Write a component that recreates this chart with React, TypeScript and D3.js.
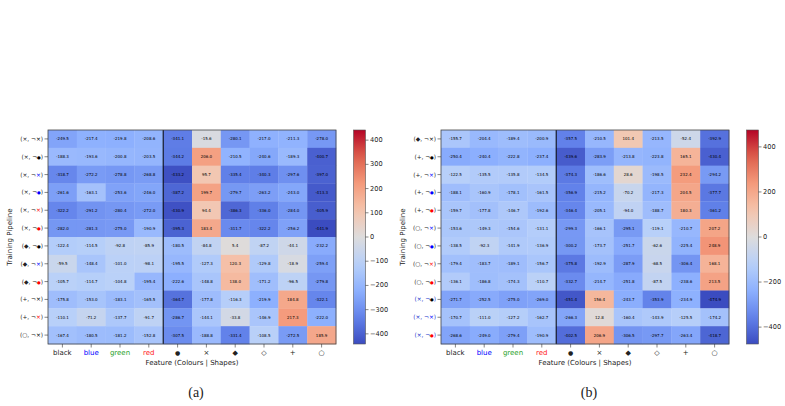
import React from "react";
import * as d3 from "d3";

// column labels (colours | shapes)
const colourCols = ["black", "blue", "green", "red"];
const colourFill = ["#222222", "#0000ff", "#2a9f2a", "#ff2020"];
const shapeCols = ["●", "×", "◆", "◇", "+", "○"];

// row labels: [shape, excluded symbol, colour of excluded symbol, colour of first part]
const rowsA = [
  ["×", "×", "black", "#222"],
  ["×", "●", "black", "#222"],
  ["×", "×", "blue", "#222"],
  ["×", "●", "blue", "#222"],
  ["×", "×", "red", "#222"],
  ["×", "●", "red", "#222"],
  ["◆", "●", "black", "#222"],
  ["◆", "×", "blue", "#222"],
  ["◆", "●", "red", "#222"],
  ["+", "×", "black", "#222"],
  ["+", "×", "red", "#222"],
  ["○", "×", "black", "#222"],
];

const rowsB = [
  ["◆", "×", "black", "#222"],
  ["+", "●", "black", "#222"],
  ["+", "×", "blue", "#222"],
  ["+", "●", "blue", "#222"],
  ["+", "●", "red", "#222"],
  ["○", "×", "blue", "#222"],
  ["○", "●", "blue", "#222"],
  ["○", "×", "red", "#222"],
  ["○", "●", "red", "#222"],
  ["×", "●", "black", "#2233cc"],
  ["×", "×", "blue", "#2233cc"],
  ["×", "●", "red", "#2233cc"],
];

const valuesA = [
  [-249.5, -217.4, -219.8, -208.6, -341.1, -15.6, -280.1, -217.0, -211.3, -278.0],
  [-188.3, -193.6, -200.8, -203.5, -344.2, 206.0, -210.5, -240.6, -189.3, -400.7],
  [-318.7, -272.2, -278.8, -268.8, -433.2, 95.7, -335.4, -340.3, -297.6, -397.0],
  [-261.6, -163.1, -253.6, -246.0, -387.2, 199.7, -279.7, -263.2, -243.0, -413.3],
  [-322.2, -291.2, -280.4, -272.0, -430.9, 94.4, -386.3, -336.0, -284.0, -405.9],
  [-282.0, -281.3, -275.0, -190.9, -395.3, 183.4, -311.7, -322.2, -256.2, -441.9],
  [-122.4, -114.5, -92.8, -85.9, -180.5, -84.8, 5.4, -87.2, -44.1, -232.2],
  [-59.5, -148.4, -101.0, -98.1, -195.5, -127.3, 120.3, -129.8, -18.9, -259.4],
  [-105.7, -114.7, -104.8, -195.4, -222.6, -148.8, 138.0, -171.2, -96.5, -279.8],
  [-175.8, -153.0, -183.1, -165.5, -364.7, -177.8, -116.3, -219.9, 184.8, -322.1],
  [-110.1, -71.2, -137.7, -91.7, -286.7, -144.1, -33.8, -146.9, 217.3, -222.0],
  [-167.4, -180.5, -181.2, -152.8, -307.5, -188.8, -331.4, -108.5, -272.5, 185.9],
];

const valuesB = [
  [-155.7, -204.4, -189.4, -200.9, -357.5, -210.5, 101.4, -213.5, -52.4, -392.9],
  [-250.4, -240.4, -222.8, -237.4, -439.6, -283.9, -213.8, -223.8, 165.1, -430.4],
  [-122.5, -135.5, -135.8, -134.5, -374.3, -186.6, 28.6, -198.5, 232.4, -294.2],
  [-188.1, -160.9, -178.1, -161.5, -356.9, -215.2, -70.2, -217.3, 204.5, -377.7],
  [-159.7, -177.8, -146.7, -192.6, -346.4, -205.1, -94.0, -188.7, 180.3, -361.2],
  [-153.6, -149.3, -154.6, -131.1, -299.3, -166.1, -295.1, -119.1, -210.7, 207.2],
  [-138.5, -92.3, -141.9, -136.9, -300.2, -173.7, -251.7, -62.6, -225.4, 248.9],
  [-179.4, -183.7, -189.1, -156.7, -375.8, -192.9, -287.9, -68.5, -306.4, 168.1],
  [-136.1, -186.8, -174.3, -110.7, -332.7, -214.7, -251.8, -87.5, -238.6, 213.5],
  [-271.7, -252.5, -275.0, -269.0, -451.4, 156.4, -243.7, -353.9, -234.9, -474.9],
  [-170.7, -111.0, -127.2, -162.7, -266.3, 12.8, -160.4, -143.9, -125.5, -174.2],
  [-268.6, -249.0, -279.4, -190.9, -402.5, 206.9, -306.5, -297.7, -263.4, -418.7],
];

const ticksA = [-400, -300, -200, -100, 0, 100, 200, 300, 400];
const ticksB = [-400, -200, 0, 200, 400];

const coolwarm = d3.piecewise(d3.interpolateRgb, [
  "#3b4cc0", "#6282ea", "#8db0fe", "#b8d0f9", "#dddcdc",
  "#f5c4ac", "#f49a7b", "#de604d", "#b40426",
]);

const colourOf = (c: string) =>
  c === "blue" ? "#0000ff" : c === "red" ? "#ff0000" : "#000000";

const font = "DejaVu Sans, sans-serif";

function Panel({ id, ox, values, rows, ticks, caption }: any) {
  const left = 48 + ox;
  const right = 336 + ox;
  const top = 130;
  const bottom = 344;
  const cols = colourCols.concat(shapeCols);
  const x = d3.scaleBand().domain(d3.range(cols.length) as any).range([left, right]);
  const y = d3.scaleBand().domain(d3.range(rows.length) as any).range([top, bottom]);
  const vmax = d3.max(values.flat(), (v: number) => Math.abs(v)) as number;
  const color = d3.scaleSequential(coolwarm).domain([-vmax, vmax]);
  const cbX = 353.5 + ox;
  const cbW = 12;
  const cy = d3.scaleLinear().domain([-vmax, vmax]).range([bottom, top]);
  const bw = x.bandwidth();
  const bh = y.bandwidth();

  return (
    <g>
      <defs>
        <linearGradient id={"grad" + id} x1="0" y1="1" x2="0" y2="0">
          {d3.range(0, 1.0001, 0.05).map((t) => (
            <stop key={t} offset={t} stopColor={coolwarm(t)} />
          ))}
        </linearGradient>
      </defs>
      {values.map((row: number[], i: number) =>
        row.map((v, j) => (
          <g key={i + "-" + j}>
            <rect x={x(j as any)} y={y(i as any)} width={bw + 0.3} height={bh + 0.3} fill={color(v)} />
            <text
              x={(x(j as any) as number) + bw / 2}
              y={(y(i as any) as number) + bh / 2}
              textAnchor="middle"
              dominantBaseline="central"
              fontSize={4}
              fontFamily={font}
              fill="#000"
            >
              {v.toFixed(1)}
            </text>
          </g>
        ))
      )}
      <line x1={x(4 as any)} x2={x(4 as any)} y1={top} y2={bottom} stroke="#000" strokeWidth={1} />
      <rect x={left} y={top} width={right - left} height={bottom - top} fill="none" stroke="#444" strokeWidth={0.8} />
      {rows.map((r: string[], i: number) => {
        const yy = (y(i as any) as number) + bh / 2;
        return (
          <g key={"r" + i}>
            <line x1={left - 3.5} x2={left} y1={yy} y2={yy} stroke="#333" strokeWidth={0.6} />
            <text x={left - 5} y={yy} textAnchor="end" dominantBaseline="central" fontSize={5.8} fontFamily={font}>
              <tspan fill={r[3]}>({r[0]}, ¬</tspan>
              <tspan fill={colourOf(r[2])} fontSize={r[1] === "●" ? 4.2 : 5.8}>{r[1]}</tspan>
              <tspan fill={r[3]}>)</tspan>
            </text>
          </g>
        );
      })}
      {cols.map((c, j) => {
        const xx = (x(j as any) as number) + bw / 2;
        return (
          <g key={"c" + j}>
            <line x1={xx} x2={xx} y1={bottom} y2={bottom + 3.5} stroke="#333" strokeWidth={0.6} />
            <text x={xx} y={bottom + 10.5} textAnchor="middle" fontSize={c === "●" ? 6 : 7} fontFamily={font}
              fill={j < 4 ? colourFill[j] : "#222"}>
              {c}
            </text>
          </g>
        );
      })}
      <text x={(left + right) / 2} y={bottom + 20.5} textAnchor="middle" fontSize={7} fontFamily={font} fill="#222">
        Feature (Colours | Shapes)
      </text>
      <text
        transform={`translate(${10 + ox},${(top + bottom) / 2}) rotate(-90)`}
        textAnchor="middle"
        dominantBaseline="central"
        fontSize={7}
        fontFamily={font}
        fill="#222"
      >
        Training Pipeline
      </text>
      <rect x={cbX} y={top} width={cbW} height={bottom - top} fill={`url(#grad${id})`} stroke="#555" strokeWidth={0.6} />
      {ticks.map((t: number) => (
        <g key={"t" + t}>
          <line x1={cbX + cbW} x2={cbX + cbW + 3} y1={cy(t)} y2={cy(t)} stroke="#333" strokeWidth={0.6} />
          <text x={cbX + cbW + 4.5} y={cy(t)} dominantBaseline="central" fontSize={6.6} fontFamily={font} fill="#222">
            {t < 0 ? "\u2212" + Math.abs(t) : String(t)}
          </text>
        </g>
      ))}
      <text x={(left + right) / 2 + 4} y={396.5} textAnchor="middle" fontSize={14} fontFamily="Liberation Serif, serif" fill="#222">
        {caption}
      </text>
    </g>
  );
}

export default function App() {
  return (
    <svg width={785} height={406} style={{ position: "absolute", left: 0, top: 0, background: "#fff" }}>
      <rect width={785} height={406} fill="#fff" />
      <Panel id="a" ox={0} values={valuesA} rows={rowsA} ticks={ticksA} caption="(a)" />
      <Panel id="b" ox={393} values={valuesB} rows={rowsB} ticks={ticksB} caption="(b)" />
    </svg>
  );
}
